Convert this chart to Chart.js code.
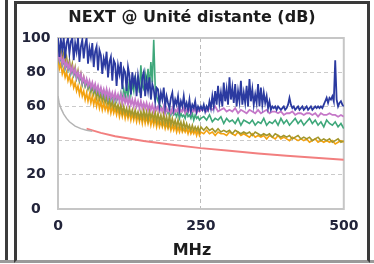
<!DOCTYPE html>
<html>
<head>
<meta charset="utf-8">
<script src="https://cdn.jsdelivr.net/npm/chart.js@4.4.0/dist/chart.umd.min.js"></script>
<style>
html, body { margin: 0; padding: 0; background: #fff; }
body { width: 374px; height: 264px; position: relative; overflow: hidden; }
#strip { position: absolute; left: 5px; top: 0; width: 3px; height: 262px; background: #3c3c3c; }
#foot { position: absolute; left: 0; top: 260px; width: 374px; height: 3px; background: #9a9a9a; }
#panel { position: absolute; left: 14px; top: 1px; width: 350px; height: 256px; border: 3px solid #3a3a3a; border-bottom-color: #9a9a9a; background: #fff; }
#wrap { position: absolute; left: 0; top: 0; width: 350px; height: 256px; }
#nextChart { filter: blur(0.4px); }
</style>
</head>
<body>
<div id="strip"></div>
<div id="foot"></div>
<div id="panel"><div id="wrap"><canvas id="nextChart"></canvas></div></div>
<script>
// chart text
const chartTitle = "NEXT @ Unité distante (dB)";
const axisTitle = "MHz";
const xTicks = [0, 250, 500];
const yTicks = [0, 20, 40, 60, 80, 100];

// measured pairs: 2.5 MHz steps up to 250 MHz, 5 MHz steps after
const freqMHz = [
    0, 2.5, 5, 7.5, 10, 12.5, 15, 17.5, 20, 22.5,
    25, 27.5, 30, 32.5, 35, 37.5, 40, 42.5, 45, 47.5,
    50, 52.5, 55, 57.5, 60, 62.5, 65, 67.5, 70, 72.5,
    75, 77.5, 80, 82.5, 85, 87.5, 90, 92.5, 95, 97.5,
    100, 102.5, 105, 107.5, 110, 112.5, 115, 117.5, 120, 122.5,
    125, 127.5, 130, 132.5, 135, 137.5, 140, 142.5, 145, 147.5,
    150, 152.5, 155, 157.5, 160, 162.5, 165, 167.5, 170, 172.5,
    175, 177.5, 180, 182.5, 185, 187.5, 190, 192.5, 195, 197.5,
    200, 202.5, 205, 207.5, 210, 212.5, 215, 217.5, 220, 222.5,
    225, 227.5, 230, 232.5, 235, 237.5, 240, 242.5, 245, 247.5,
    250,
    255, 260, 265, 270, 275, 280, 285, 290, 295, 300,
    305, 310, 315, 320, 325, 330, 335, 340, 345, 350,
    355, 360, 365, 370, 375, 380, 385, 390, 395, 400,
    405, 410, 415, 420, 425, 430, 435, 440, 445, 450,
    455, 460, 465, 470, 475, 480, 485, 490, 495, 500
];
// the blue pair is read at 2.5 MHz over the whole sweep
const freqBlueMHz = freqMHz.slice(0, 101).concat([
    252.5, 255, 257.5, 260, 262.5, 265, 267.5, 270, 272.5, 275,
    277.5, 280, 282.5, 285, 287.5, 290, 292.5, 295, 297.5, 300,
    302.5, 305, 307.5, 310, 312.5, 315, 317.5, 320, 322.5, 325,
    327.5, 330, 332.5, 335, 337.5, 340, 342.5, 345, 347.5, 350,
    352.5, 355, 357.5, 360, 362.5, 365, 367.5, 370, 372.5, 375,
    377.5, 380, 382.5, 385, 387.5, 390, 392.5, 395, 397.5, 400,
    402.5, 405, 407.5, 410, 412.5, 415, 417.5, 420, 422.5, 425,
    427.5, 430, 432.5, 435, 437.5, 440, 442.5, 445, 447.5, 450,
    452.5, 455, 457.5, 460, 462.5, 465, 467.5, 470, 472.5, 475,
    477.5, 480, 482.5, 485, 487.5, 490, 492.5, 495, 497.5, 500
]);
const bluePair = [
    100, 89, 99, 93, 100, 88, 97, 100, 91, 98,
    100, 87, 97, 92, 100, 86, 95, 99, 88, 96,
    100, 85, 94, 89, 97, 83, 92, 95, 81, 93,
    90, 79, 88, 84, 92, 77, 86, 89, 75, 87,
    85, 72, 84, 79, 86, 70, 82, 80, 69, 83,
    78, 67, 80, 73, 77, 66, 78, 72, 65, 77,
    80, 66, 75, 69, 77, 64, 73, 70, 63, 71,
    70, 61, 68, 64, 71, 60, 66, 62, 59, 65,
    68, 59, 64, 61, 66, 58, 63, 60, 66, 59,
    62, 58, 64, 57, 61, 59, 63, 57, 60, 58,
    60,
    58, 61, 57, 60, 58, 63, 59, 66, 60, 69,
    61, 72, 62, 68, 60, 74, 63, 70, 61, 77,
    64, 71, 62, 73, 60, 69, 63, 75, 61, 68,
    62, 72, 60, 76, 63, 70, 61, 67, 62, 73,
    60, 71, 61, 68, 62, 66, 59, 63, 58, 60,
    59, 60, 58, 60, 59, 58, 59, 60, 58, 59,
    61, 65, 61, 59, 60, 58, 59, 60, 58, 59,
    60, 58, 59, 60, 58, 59, 60, 58, 59, 60,
    59, 60, 59, 60, 59, 61, 63, 65, 62, 65,
    64, 66, 63, 87, 64, 60, 62, 63, 61, 60
];
const greenPair = [
    91, 86, 89, 84, 87, 82, 85, 81, 84, 79,
    82, 78, 81, 76, 79, 75, 78, 73, 76, 72,
    75, 71, 74, 70, 73, 69, 72, 68, 71, 67,
    70, 66, 69, 65, 69, 64, 68, 64, 67, 63,
    66, 63, 66, 64, 68, 63, 70, 65, 72, 66,
    76, 67, 73, 69, 78, 70, 75, 68, 84, 72,
    70, 79, 73, 82, 71, 86, 74, 99, 72, 66,
    63, 61, 60, 58, 59, 57, 58, 56, 59, 55,
    57, 55, 56, 54, 57, 53, 56, 54, 55, 53,
    57, 54, 55, 53, 56, 52, 55, 53, 54, 52,
    53,
    54, 52, 55, 51, 53, 52, 54, 50, 53, 51,
    52, 50, 53, 49, 52, 51, 50, 52, 49, 51,
    50, 53, 49, 51, 50, 52, 49, 53, 50, 52,
    49, 51, 53, 50, 52, 49, 51, 53, 50, 52,
    49, 51, 48, 52, 50, 49, 51, 48, 50, 47
];
const pinkPair = [
    92, 87, 90, 85, 88, 83, 86, 82, 85, 80,
    83, 79, 82, 77, 80, 76, 79, 74, 77, 73,
    76, 72, 75, 71, 74, 70, 73, 69, 72, 68,
    71, 67, 70, 66, 70, 65, 69, 65, 68, 64,
    68, 64, 67, 63, 67, 62, 66, 62, 65, 61,
    65, 61, 64, 60, 64, 60, 63, 59, 63, 59,
    62, 59, 62, 58, 61, 58, 61, 57, 60, 58,
    60, 57, 59, 57, 60, 56, 59, 57, 58, 56,
    59, 56, 58, 57, 59, 56, 58, 57, 59, 56,
    58, 57, 59, 56, 58, 57, 59, 56, 58, 57,
    58,
    58, 57, 59, 58, 60, 57, 58, 59, 57, 58,
    57, 59, 56, 58, 57, 56, 58, 57, 56, 58,
    56, 57, 58, 56, 57, 57, 56, 57, 55, 56,
    56, 57, 55, 56, 56, 55, 56, 56, 55, 56,
    54, 56, 55, 55, 56, 55, 55, 54, 55, 54
];
const olivePair = [
    95, 90, 93, 87, 91, 85, 89, 83, 87, 81,
    85, 79, 83, 77, 81, 75, 79, 73, 77, 72,
    75, 70, 73, 68, 72, 67, 70, 65, 69, 64,
    67, 63, 66, 62, 65, 61, 64, 60, 63, 59,
    62, 58, 61, 57, 61, 56, 60, 56, 59, 55,
    59, 55, 58, 54, 58, 54, 57, 53, 57, 53,
    58, 53, 57, 52, 58, 53, 56, 52, 57, 51,
    56, 51, 55, 50, 56, 50, 54, 49, 55, 49,
    53, 49, 52, 48, 52, 48, 51, 47, 51, 47,
    50, 47, 49, 46, 49, 46, 48, 46, 48, 45,
    48,
    46, 48, 46, 47, 45, 47, 45, 46, 45, 46,
    44, 46, 45, 44, 45, 44, 45, 43, 45, 44,
    43, 44, 43, 44, 42, 44, 43, 42, 43, 42,
    43, 41, 42, 43, 41, 42, 41, 42, 40, 41,
    42, 40, 41, 40, 41, 39, 40, 41, 39, 40
];
const orangePair = [
    88, 82, 85, 79, 82, 77, 80, 75, 78, 73,
    76, 71, 74, 69, 72, 67, 71, 66, 69, 64,
    68, 63, 67, 62, 66, 61, 65, 60, 64, 59,
    63, 58, 62, 58, 61, 57, 61, 56, 60, 56,
    59, 55, 59, 54, 58, 54, 58, 53, 57, 53,
    57, 52, 56, 52, 56, 51, 55, 51, 55, 50,
    55, 50, 54, 50, 54, 49, 53, 49, 53, 48,
    52, 48, 51, 48, 51, 47, 50, 47, 50, 46,
    49, 46, 49, 45, 48, 45, 48, 45, 47, 45,
    47, 44, 47, 44, 46, 44, 46, 43, 46, 43,
    45,
    44, 46, 44, 45, 43, 45, 44, 44, 43, 45,
    44, 43, 45, 43, 44, 43, 42, 44, 42, 43,
    42, 43, 41, 43, 42, 41, 43, 41, 42, 41,
    40, 42, 41, 40, 41, 40, 41, 39, 40, 41,
    39, 40, 39, 40, 39, 40, 38, 39, 40, 39
];

// limit curves
const grayFreq = [0, 2, 5, 10, 15, 20, 30, 40, 50, 60];
const grayLimit = [66, 62, 59, 55.5, 53, 51, 48.5, 47, 46, 45.5];
const redFreq = [50, 75, 100, 150, 200, 250, 300, 350, 400, 450, 500];
const redLimit = [47, 44.5, 42.5, 39.8, 37.6, 35.6, 34, 32.5, 31.2, 30, 28.8];

function pts(xs, ys) {
    return xs.map(function (x, i) { return { x: x, y: ys[i] }; });
}

function line(values, xs, color, width) {
    return {
        data: pts(xs, values),
        borderColor: color,
        borderWidth: width,
        pointRadius: 0,
        tension: 0,
        fill: false
    };
}

const fontFamily = "'DejaVu Sans', Verdana, sans-serif";

// frame around the plot area
const plotFrame = {
    id: "plotFrame",
    beforeDatasetsDraw(chart) {
        const a = chart.chartArea;
        const ctx = chart.ctx;
        ctx.save();
        ctx.strokeStyle = "#c6c6c6";
        ctx.lineWidth = 2;
        ctx.strokeRect(a.left, a.top, a.right - a.left, a.bottom - a.top);
        ctx.restore();
    }
};

const nextChart = new Chart(document.getElementById("nextChart"), {
    type: "line",
    data: {
        datasets: [
            line(bluePair, freqBlueMHz, "#2b3aa0", 1.8),
            line(pinkPair, freqMHz, "#c578c8", 1.8),
            line(greenPair, freqMHz, "#3ea77a", 1.6),
            line(olivePair, freqMHz, "#a3972c", 1.6),
            line(orangePair, freqMHz, "#f3a210", 1.6),
            line(grayLimit, grayFreq, "#b4b4b4", 1.5),
            line(redLimit, redFreq, "#f27f7f", 2)
        ]
    },
    options: {
        responsive: true,
        maintainAspectRatio: false,
        animation: false,
        layout: { padding: 0 },
        plugins: {
            legend: { display: false },
            tooltip: { enabled: false },
            title: {
                display: true,
                text: chartTitle,
                color: "#1c1c1c",
                font: { family: fontFamily, size: 16, weight: "bold" },
                padding: { top: 4.4, bottom: 10.4 }
            },
            subtitle: {
                display: true,
                position: "bottom",
                text: axisTitle,
                color: "#1c1c1c",
                font: { family: fontFamily, size: 16, weight: "bold" },
                padding: { top: 0, bottom: 0 }
            }
        },
        scales: {
            x: {
                type: "linear",
                min: 0,
                max: 500,
                afterBuildTicks: function (s) { s.ticks = xTicks.map(function (v) { return { value: v }; }); },
                afterFit: function (s) { s.height = 31.8; },
                ticks: {
                    color: "#22243a",
                    padding: 8.6,
                    maxRotation: 0,
                    font: { family: fontFamily, size: 14, weight: "bold" }
                },
                border: { display: false, dash: [4, 3] },
                grid: {
                    drawTicks: false,
                    lineWidth: 1,
                    color: function (c) { return c.tick && c.tick.value === 250 ? "#bcbcbc" : "rgba(0,0,0,0)"; }
                }
            },
            y: {
                min: 0,
                max: 100,
                afterBuildTicks: function (s) { s.ticks = yTicks.map(function (v) { return { value: v }; }); },
                afterFit: function (s) { s.width = 41; },
                ticks: {
                    color: "#22243a",
                    padding: 7.4,
                    crossAlign: "center",
                    font: { family: fontFamily, size: 14, weight: "bold" }
                },
                border: { display: false, dash: [4, 3] },
                grid: {
                    drawTicks: false,
                    lineWidth: 1,
                    color: function (c) {
                        const v = c.tick ? c.tick.value : 0;
                        return v > 0 && v < 100 ? "#cacaca" : "rgba(0,0,0,0)";
                    }
                }
            },
            // empty right gutter so the plot ends where the reference does
            gutter: {
                type: "linear",
                position: "right",
                min: 0,
                max: 1,
                afterFit: function (s) { s.width = 19; },
                ticks: { display: false },
                grid: { display: false },
                border: { display: false }
            }
        }
    },
    plugins: [plotFrame]
});
</script>
</body>
</html>
